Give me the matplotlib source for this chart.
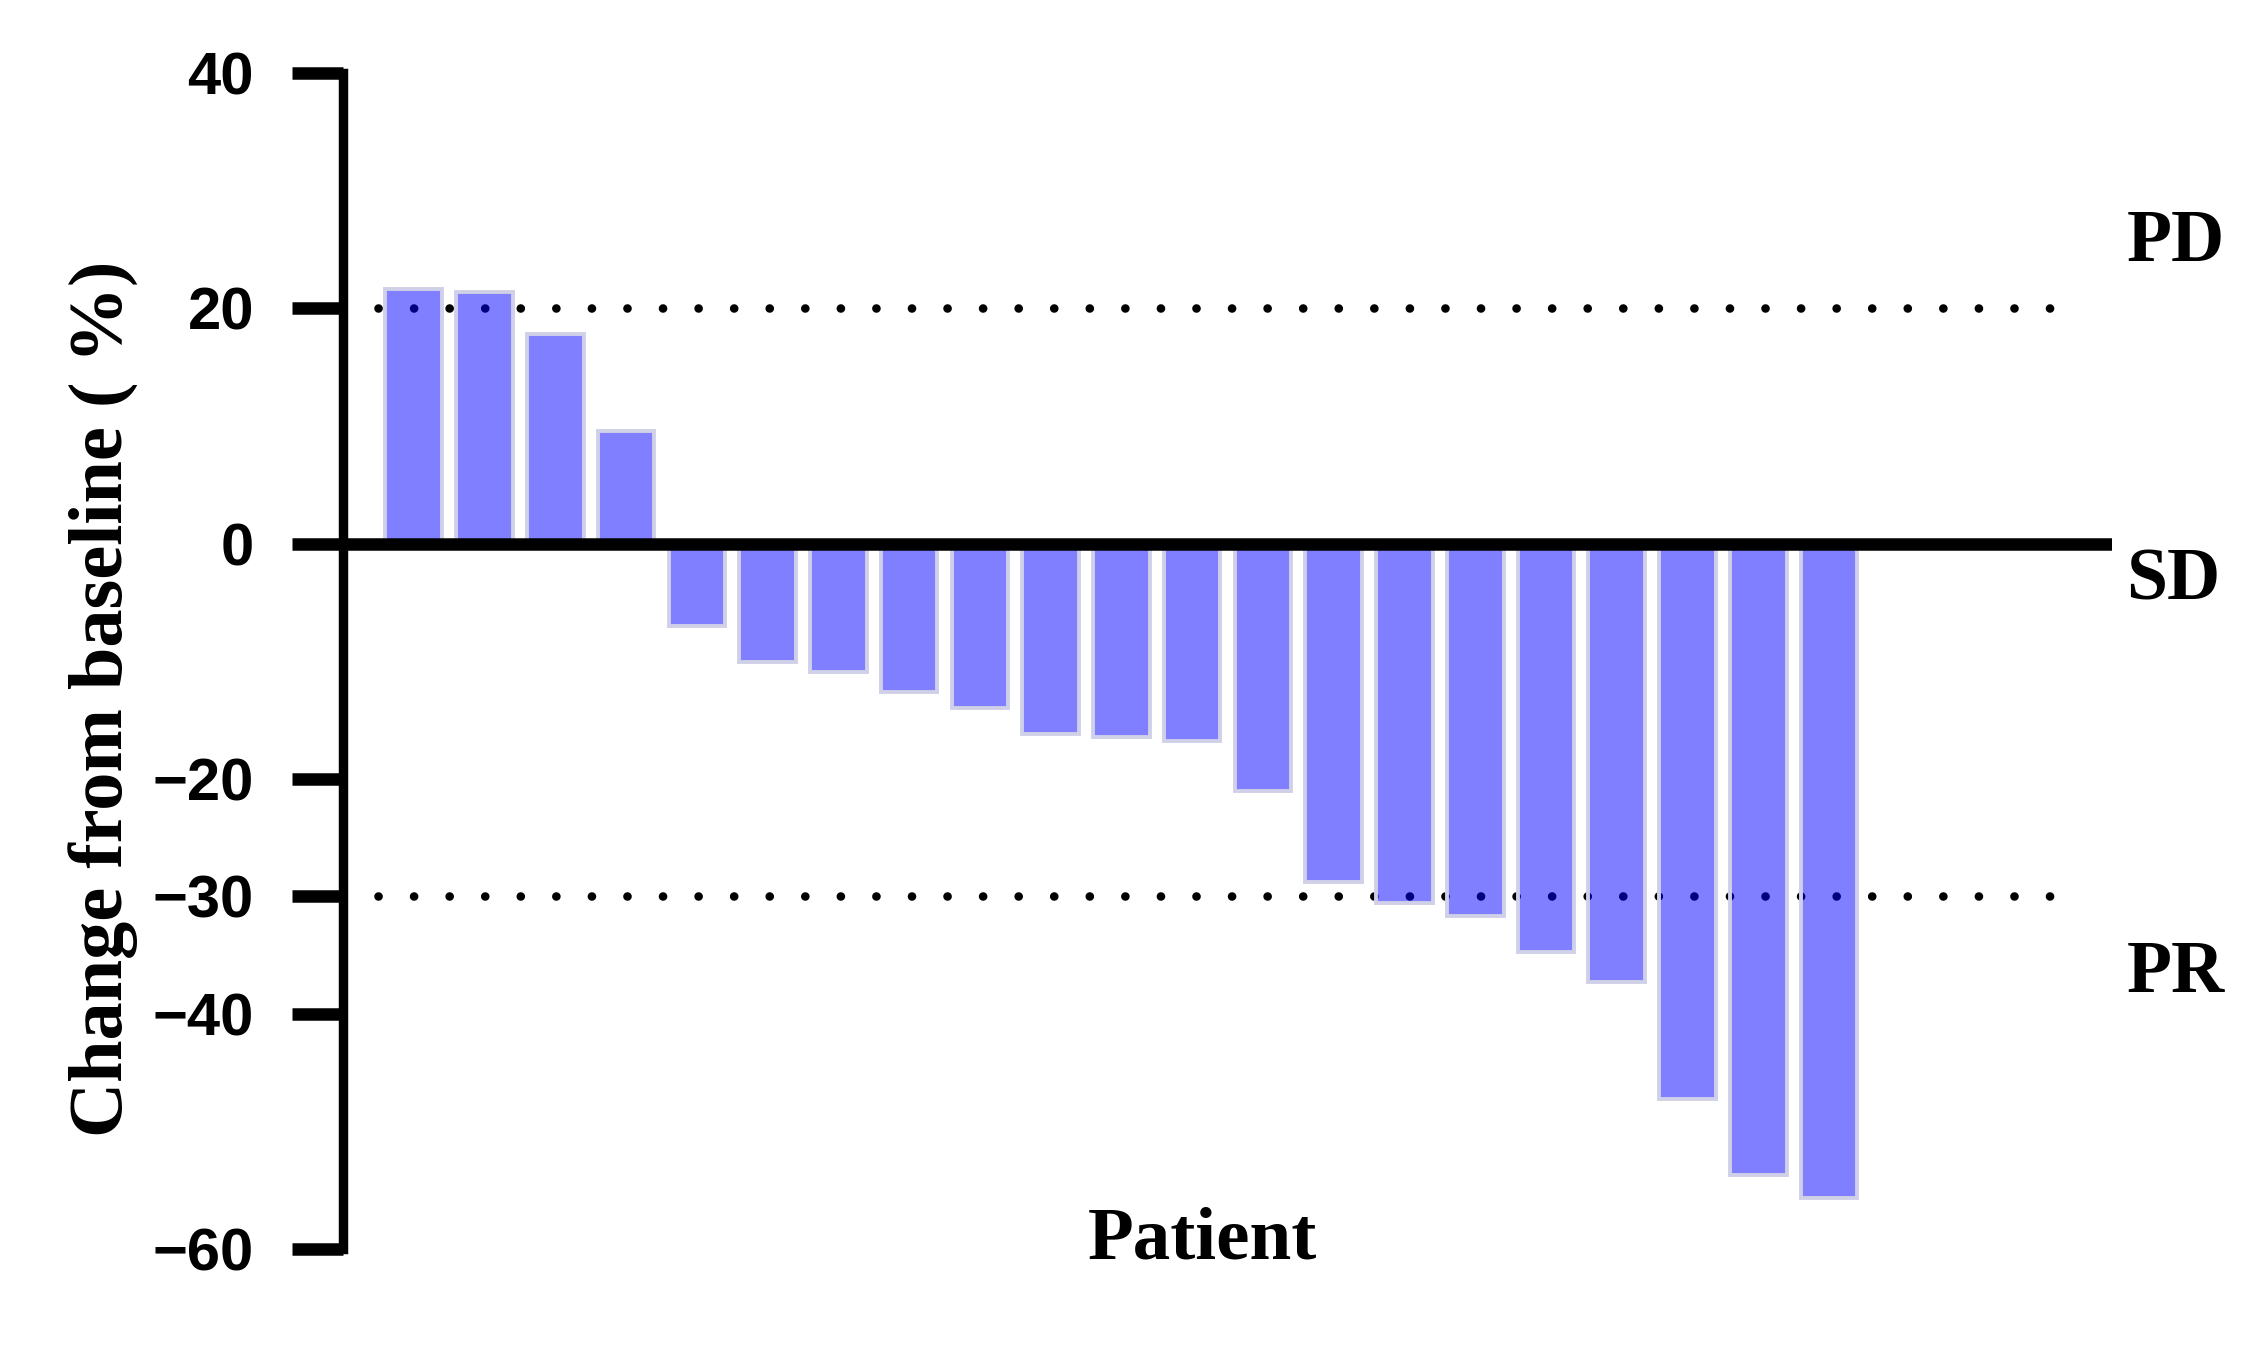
import numpy as np
import matplotlib
matplotlib.use('Agg')
import matplotlib.pyplot as plt

# Dados (variação em relação ao baseline, %)
patients = np.arange(21)
change = [21.7, 21.4, 17.8, 9.6, -7.0, -10.1, -10.9, -12.6, -14.0, -16.2, -16.5,
          -16.8, -21.1, -28.8, -30.6, -31.7, -34.8, -37.3, -47.3, -53.7, -55.7]
yticks = [40, 20, 0, -20, -30, -40, -60]
cutoffs = [20, -30]
zones = ['PD', 'SD', 'PR']
zone_y = [24.0, -4.8, -38.2]

fig = plt.figure(figsize=(22.64, 13.53), dpi=100)
ax = fig.add_axes([0.1515, 0.0772, 0.9329 - 0.1515, 0.9457 - 0.0772])

# linhas pontilhadas (PD = +20%, PR = -30%)
for c in cutoffs:
    ax.plot([-0.51, 23.45], [c, c], color='black', lw=6.2,
            ls=(0, (0.01, 4.12)), dash_capstyle='round', zorder=1)

ax.bar(patients, change, width=0.8, color=(0, 0, 1, 0.5),
       edgecolor='#d0d0e8', linewidth=2.8, zorder=2)

ax.axhline(0, color='black', lw=9, zorder=3)

ax.set_xlim(-1, 24)
ax.set_ylim(-60, 40)
ax.set_xticks([])
ax.set_yticks(yticks)
ax.set_yticklabels([str(t).replace('-', '\u2212') for t in yticks],
                   fontfamily='Liberation Sans', fontweight='bold', fontsize=43)
ax.tick_params(axis='y', length=37, width=9, pad=27, color='black')
for s in ['top', 'right', 'bottom']:
    ax.spines[s].set_visible(False)
ax.spines['left'].set_linewidth(6.8)

for lab, yy in zip(zones, zone_y):
    ax.text(24.2, yy, lab, fontfamily='Liberation Serif', fontweight='bold',
            fontsize=53, ha='left', va='baseline', clip_on=False)

fig.text(0.0543, 0.4834, 'Change from baseline ( %)', rotation=90,
         rotation_mode='anchor', ha='center', va='baseline',
         fontfamily='Liberation Serif', fontweight='bold', fontsize=55)
fig.text(0.5313, 0.0702, 'Patient', ha='center', va='baseline',
         fontfamily='Liberation Serif', fontweight='bold', fontsize=54)

fig.savefig('out.png', dpi=100)
